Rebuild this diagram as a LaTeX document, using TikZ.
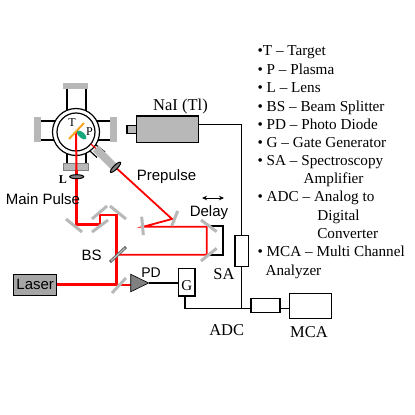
\documentclass[tikz,border=0pt]{standalone}
\usepackage{fontspec}
\setmainfont{Liberation Serif}
\setsansfont{Liberation Sans}
\usetikzlibrary{arrows.meta, positioning, shapes.geometric, calc}
\definecolor{cred}{HTML}{FF0000}
\definecolor{cgrey}{HTML}{B8B8B8}
\definecolor{cdark}{HTML}{808080}
\definecolor{corange}{HTML}{F5A623}
\definecolor{cgreen}{HTML}{14A87C}
\tikzset{
  every picture/.style={line width=1.2pt},
  box/.style={draw=black, line width=1.2pt, fill=#1, inner sep=0pt, outer sep=0pt},
  box/.default=white,
  flange/.style={fill=cgrey, draw=none, inner sep=0pt, outer sep=0pt},
  port/.style={draw=black, line width=1.2pt},
  wire/.style={draw=black, line width=1.2pt},
  beam/.style={draw=cred, line width=2.8pt, line join=miter},
  thinbeam/.style={draw=cred, line width=1.8pt, line join=miter},
  mirror/.style={draw=cgrey, line width=3pt},
  lens/.style={ellipse, draw=black, fill=cdark, line width=1pt, inner sep=0pt, outer sep=0pt, minimum width=14pt, minimum height=4pt},
  sanslabel/.style={font=\sffamily\fontsize{15}{15}\selectfont, inner sep=0pt},
  seriflabel/.style={font=\rmfamily\fontsize{16.5}{16}\selectfont, inner sep=0pt},
  smalllabel/.style={font=\rmfamily\fontsize{12}{12}\selectfont, inner sep=0pt},
  legend/.style={font=\rmfamily\fontsize{15.2}{16}\selectfont, inner sep=0pt, anchor=base west},
}
\newcommand{\mirrorline}[4]{\draw[mirror] (#1,#2) -- (#3,#4);}

\begin{document}
\begin{tikzpicture}[x=1pt, y=-1pt]
  \useasboundingbox (0,0) rectangle (415,415);

  % chamber and its ports
  \coordinate (centre) at (76,132);
  \draw[port] (67,89) -- (67,115) (86,89) -- (86,115);
  \draw[port] (41,121) -- (58,121) (41,140) -- (58,140);
  \draw[port] (110,121) -- (94,121) (110,140) -- (94,140);
  \draw[port] (67,163) -- (67,150) (86,163) -- (86,150);
  \draw[port] (86.7,148) -- (97,157.5) (93,142.7) -- (105,152);
  \node[flange, minimum width=25pt, minimum height=6.5pt] (flangetop) at (75.5,86) {};
  \node[flange, minimum width=7pt, minimum height=25pt] (flangeleft) at (37.5,129.5) {};
  \node[flange, minimum width=7pt, minimum height=25pt] (flangeright) at (113.5,129.5) {};
  \node[flange, minimum width=25pt, minimum height=6.5pt, draw=cdark, line width=.4pt] (flangebottom) at (75.5,166.5) {};
  \draw[black, line width=1.2pt, fill=white] (centre) circle (23.5);
  \draw[black, line width=1.2pt] (centre) circle (19);

  % beam paths
  \node[box=cdark!70, minimum width=43pt, minimum height=21pt, font=\sffamily\fontsize{15}{15}\selectfont] (laser) at (35.2,284.7) {Laser};
  \coordinate (mlaser) at (116.7,284.7);
  \coordinate (mbs) at (116.7,254.7);
  \coordinate (mtop) at (116.7,215);
  \coordinate (mtopl) at (100,215);
  \coordinate (mlow) at (100,224.5);
  \coordinate (mmain) at (76.5,224.5);
  \coordinate (dlow) at (206.7,254.7);
  \coordinate (dtop) at (206.7,226.7);
  \coordinate (pleft) at (143.5,226.7);
  \coordinate (pright) at (172,219);
  \coordinate (pend) at (91,144);
  \draw[black, line width=2.2pt] (210,226) -- (222.7,226) -- (222.7,255) -- (210,255);
  \draw[beam] (laser.east) -- (mlaser) -- (mtop) -- (mtopl) -- (mlow) -- (mmain) -- (76.5,170);
  \draw[draw=cred, line width=2pt] (76.5,170) -- (centre);
  \draw[beam, line width=1.8pt] (mlaser) -- (131,284.7);
  \draw[thinbeam] (mbs) -- (dlow) -- (dtop) -- (pleft) -- (pright) -- (115.5,167.3);
  \draw[draw=cred, line width=1.2pt] (115.5,167.3) -- (pend);
  \node[flange, minimum width=25pt, minimum height=8pt, rotate=-45] (flangediag) at (104.5,157.3) {};

  % mirrors
  \mirrorline{66}{219}{82}{232}
  \mirrorline{92}{232}{108}{220}
  \mirrorline{92}{219}{107}{206}
  \mirrorline{110}{206}{126}{219}
  \mirrorline{112}{293}{126}{278}
  \mirrorline{171.7}{226}{177.7}{211}
  \mirrorline{141.7}{216.7}{143.3}{235}
  \mirrorline{201}{220}{216.7}{231.7}
  \mirrorline{201}{261}{216.7}{248.3}
  \draw[draw=cdark!80!black, line width=3pt] (110,262) -- (126,247);
  \draw[draw=cgrey, line width=1.2pt] (111,261) -- (125,248);

  % target, plasma, lenses
  \draw[draw=corange, line width=2pt] (69,139) -- (84,123);
  \node[ellipse, fill=cgreen, inner sep=0pt, minimum width=12pt, minimum height=5.5pt, rotate=-42] (plasma) at (81.7,135) {};
  \node[lens] (lensmain) at (76.7,176.7) {};
  \node[lens, rotate=45] (lensdiag) at (115.5,167.3) {};

  % detector chain
  \node[box=cgrey, minimum width=62pt, minimum height=26.7pt] (nai) at (167.7,129.3) {};
  \node[box=cgrey, minimum width=9.7pt, minimum height=8pt, anchor=east] (naitip) at (nai.west) {};
  \node[box, minimum width=13.3pt, minimum height=31pt] (sa) at (241.6,251.2) {};
  \node[box, minimum width=16.3pt, minimum height=27.3pt] (gate) at (186.8,282.3) {};
  \node[box, minimum width=29pt, minimum height=14pt] (adc) at (265.5,305.3) {};
  \node[box, minimum width=42.4pt, minimum height=25.4pt] (mca) at (310.5,306) {};
  \node[isosceles triangle, isosceles triangle apex angle=52, draw=black, fill=cdark, line width=.6pt, inner sep=0pt, outer sep=0pt, minimum height=18pt, anchor=lower side] (pd) at (130.7,283) {};
  \coordinate (naiout) at (198.7,124.7);
  \coordinate (gateout) at (185,296);
  \coordinate (join) at (241.6,308.5);
  \draw[wire] (naiout) -| (sa.north);
  \draw[wire] (sa.south) -- (join);
  \draw[wire] (gateout) |- (adc.west |- join);
  \draw[wire] (pd.east) -- (gate.west |- pd.east);
  \draw[wire] (adc.east |- join) -- (mca.west |- join);

  % delay arrow
  \coordinate (delayl) at (202,198);
  \coordinate (delayr) at (224,198);
  \draw[{Stealth[length=5pt, width=4.5pt]}-{Stealth[length=5pt, width=4.5pt]}, line width=.9pt] (delayl) -- (delayr);

  % labels
  \node[smalllabel] (tlabel) at (72,123) {T};
  \node[smalllabel] (plabel) at (89.5,131.7) {P};
  \node[smalllabel, font=\rmfamily\bfseries\fontsize{12}{12}\selectfont] (llabel) at (63,180) {L};
  \node[sanslabel] (mainpulse) at (43,199) {Main Pulse};
  \node[sanslabel] (prepulse) at (166.5,176.5) {Prepulse};
  \node[sanslabel] (delay) at (209,213) {Delay};
  \node[sanslabel] (bs) at (91.7,255.7) {BS};
  \node[sanslabel, font=\sffamily\fontsize{14}{14}\selectfont] (pdlabel) at (151,273) {PD};
  \node[seriflabel, font=\rmfamily\fontsize{15}{15}\selectfont] (glabel) at (186.8,286) {G};
  \node[seriflabel] (nailabel) at (180.5,107) {NaI (Tl)};
  \node[seriflabel] (salabel) at (224,274) {SA};
  \node[seriflabel] (adclabel) at (226.7,330) {ADC};
  \node[seriflabel] (mcalabel) at (309,332) {MCA};

  % legend
  \foreach \i/\x/\y/\txt in {
      a/257/55.7/{•T – Target},
      b/257/74.3/{• P – Plasma},
      c/257/92.3/{• L – Lens},
      d/257/111/{• BS – Beam Splitter},
      e/257/129.3/{• PD – Photo Diode},
      f/257/147.7/{• G – Gate Generator},
      g/257/165.7/{• SA – Spectroscopy},
      h/303/183.7/{Amplifier},
      j/257/201.7/{• ADC – Analog to},
      k/316.7/220.3/{Digital},
      l/316.7/238.3/{Converter},
      m/257/256.7/{• MCA – Multi Channel},
      n/265/275/{Analyzer}}
    \node[legend] (legend\i) at (\x,\y) {\txt};
\end{tikzpicture}
\end{document}
